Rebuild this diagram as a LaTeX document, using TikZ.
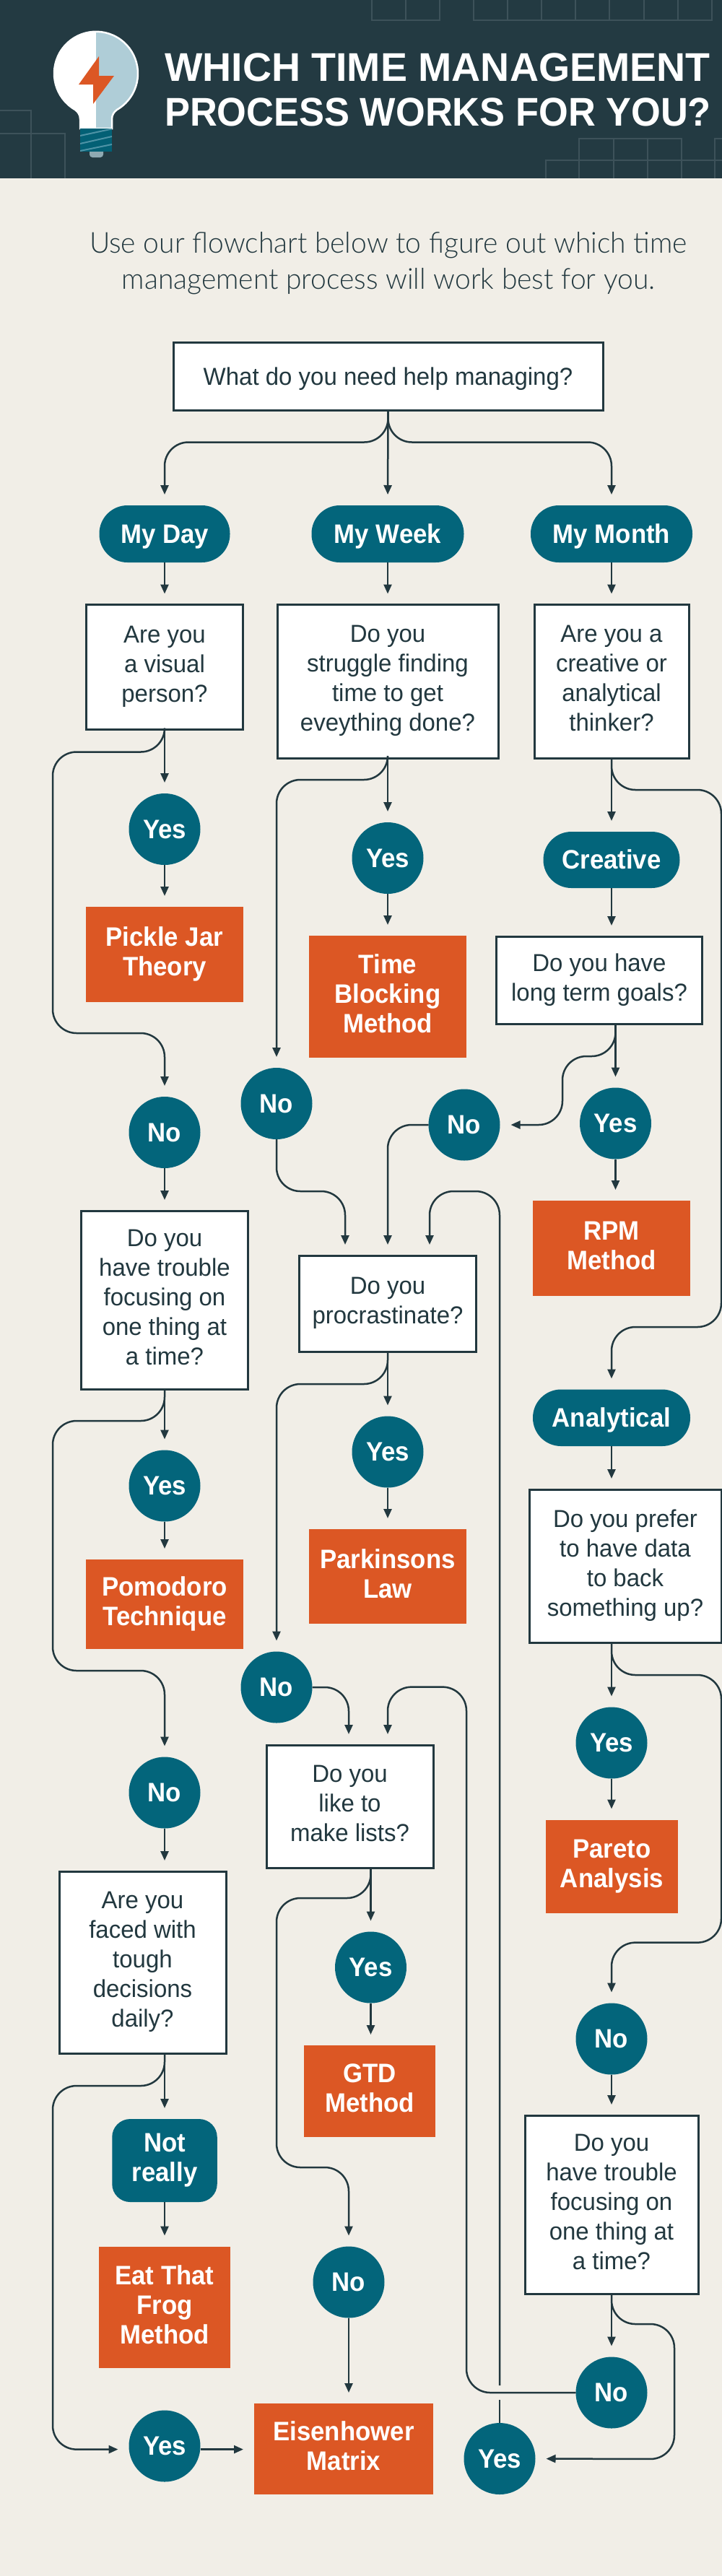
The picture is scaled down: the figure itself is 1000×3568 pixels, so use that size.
\documentclass[tikz,border=0pt]{standalone}
\usepackage{fontspec}
\setmainfont{Liberation Sans}
\newfontfamily\lightfont[FakeStretch=0.975]{Lato Light}
\newfontfamily\boldcond[FakeStretch=0.94]{Liberation Sans}
\newfontfamily\regcond[FakeStretch=0.97]{Liberation Sans}
\usetikzlibrary{arrows.meta,calc}
\definecolor{bgc}{HTML}{F1EEE7}
\definecolor{head}{HTML}{233A42}
\definecolor{gridc}{HTML}{3D525A}
\definecolor{ink}{HTML}{22383F}
\definecolor{tealc}{HTML}{03657B}
\definecolor{orangec}{HTML}{DC5724}
\definecolor{bulbblue}{HTML}{AFCDD7}
\definecolor{stripe}{HTML}{4E93A6}
\definecolor{capc}{HTML}{8FA9B2}
\tikzset{
  qbox/.style={draw=ink,line width=3pt,fill=white,text=ink,inner sep=0pt,outer sep=0pt,align=center,
    font=\regcond\fontsize{34}{41}\selectfont,
    execute at begin node={\rule{0pt}{26pt}\ignorespaces},execute at end node={\rule[-8pt]{0pt}{8pt}}},
  qone/.style={execute at begin node={\rule{0pt}{33pt}\ignorespaces}},
  res/.style={fill=orangec,text=white,inner sep=0pt,outer sep=0pt,align=center,
    font=\boldcond\bfseries\fontsize{37}{41}\selectfont,
    execute at begin node={\rule{0pt}{31pt}\ignorespaces},execute at end node={\rule[-8pt]{0pt}{8pt}}},
  pill/.style={fill=tealc,text=white,rounded corners=39pt,inner sep=0pt,outer sep=0pt,align=center,
    minimum height=79pt,font=\boldcond\bfseries\fontsize{37}{41}\selectfont,
    execute at begin node={\rule{0pt}{33pt}\ignorespaces},execute at end node={\rule[-8pt]{0pt}{8pt}}},
  ball/.style={circle,fill=tealc,text=white,inner sep=0pt,outer sep=0pt,minimum size=99pt,align=center,
    font=\boldcond\bfseries\fontsize{37}{41}\selectfont,
    execute at begin node={\rule{0pt}{33pt}\ignorespaces},execute at end node={\rule[-8pt]{0pt}{8pt}}},
  conn/.style={draw=ink,line width=2.5pt,rounded corners=33pt,-{Triangle[width=11pt,length=13pt]},shorten >=15pt},
  plainline/.style={draw=ink,line width=2.5pt,rounded corners=33pt},
  gridl/.style={draw=gridc,line width=2pt},
}
\begin{document}
\begin{tikzpicture}[x=1pt,y=-1pt]
\useasboundingbox (0,0) rectangle (1000,3568);
\fill[bgc] (0,0) rectangle (1000,3568);
\fill[head] (0,0) rectangle (1000,247);
% header grid
\draw[gridl] (515,0) -- (515,28) -- (609,28) -- (609,0) (562,0) -- (562,28);
\draw[gridl] (656,0) -- (656,28) -- (986,28) -- (986,0)
  (703,0) -- (703,28) (750,0) -- (750,28) (797,0) -- (797,28) (844,0) -- (844,28) (892,0) -- (892,28) (939,0) -- (939,28);
\draw[gridl] (0,153) -- (43,153) -- (43,247) (0,185) -- (90,185) -- (90,247);
\draw[gridl] (756,247) -- (756,222) -- (1000,222) (802,247) -- (802,192) -- (944,192) -- (944,247)
  (850,192) -- (850,247) (897,192) -- (897,247) (1000,192) -- (990,192) -- (990,247);
% bulb
\fill[capc] (124,208) rectangle (143,214) arc[start angle=0,end angle=90,radius=4] -- (128,218) arc[start angle=90,end angle=180,radius=4] -- cycle;
\def\bulbpath{(111,178) -- (111,165) .. controls (111,159) and (108,155) .. (104,152) arc[start angle=120,end angle=420,radius=58] .. controls (158,155) and (155,159) .. (155,165) -- (155,178) -- cycle}
\fill[white] \bulbpath;
\begin{scope}
\clip (133,0) rectangle (200,178);
\fill[bulbblue] \bulbpath;
\end{scope}
\draw[white,line width=2.5pt] \bulbpath;
\fill[tealc!95!black] (111,178) rectangle (155,210);
\begin{scope}
\clip (111,178) rectangle (155,210);
\draw[stripe,line width=2pt] (111,188) -- (155,178.5) (111,199) -- (155,189) (111,209) -- (155,200);
\end{scope}
\fill[orangec] (137,78) -- (109,117) -- (129,117) -- (129,144) -- (158,105) -- (137,105) -- cycle;
% titles
\node[anchor=west,inner sep=0pt,align=left,text=white,font=\bfseries\fontsize{55.5}{61.5}\selectfont,
  execute at begin node={\rule{0pt}{40pt}\ignorespaces}] (title) at (228,124.5)
  {WHICH TIME MANAGEMENT\\\addfontfeature{FakeStretch=0.944}PROCESS WORKS FOR YOU?};
\node[inner sep=0pt,align=center,text=ink,font=\lightfont\fontsize{40}{50}\selectfont,
  execute at begin node={\rule{0pt}{29pt}\ignorespaces},execute at end node={\rule[-9pt]{0pt}{9pt}}] (sub) at (538,365)
  {Use our flowchart below to figure out which time\\management process will work best for you.};
% nodes
\node[qbox,qone,minimum width=595pt,minimum height=94pt] (q0) at (537.5,521) {What do you need help managing?};
\node[pill,minimum width=181pt] (pday) at (228,739.5) {My Day};
\node[pill,minimum width=211pt] (pweek) at (537,739.5) {My Week};
\node[pill,minimum width=224pt] (pmonth) at (847,739.5) {My Month};
\node[qbox,minimum width=216.5pt,minimum height=172.5pt] (qday) at (228,923.75) {Are you\\a visual\\person?};
\node[qbox,minimum width=306pt,minimum height=212.5pt] (qweek) at (537,943.75) {Do you\\struggle finding\\time to get\\eveything done?};
\node[qbox,minimum width=214pt,minimum height=212.5pt] (qmonth) at (847,943.75) {Are you a\\creative or\\analytical\\thinker?};
\node[ball] (y1) at (228,1148.5) {Yes};
\node[ball] (y2) at (537,1188.5) {Yes};
\node[pill,minimum width=189pt,minimum height=78pt] (pcre) at (847,1191) {Creative};
\node[res,minimum width=218pt,minimum height=131.5pt] (rpick) at (228,1321.75) {Pickle Jar\\Theory};
\node[res,minimum width=217.5pt,minimum height=169pt] (rtime) at (537,1380.5) {Time\\Blocking\\Method};
\node[qbox,minimum width=285pt,minimum height=121pt] (qlong) at (830,1357.5) {Do you have\\long term goals?};
\node[ball] (n1) at (228,1568.5) {No};
\node[ball] (n2) at (383,1528.5) {No};
\node[ball] (n3) at (643,1558) {No};
\node[ball] (y3) at (852.5,1556) {Yes};
\node[res,minimum width=218pt,minimum height=132pt] (rrpm) at (847,1729) {RPM\\Method};
\node[qbox,minimum width=231pt,minimum height=247pt] (qfoc) at (228,1800.5) {Do you\\have trouble\\focusing on\\one thing at\\a time?};
\node[qbox,minimum width=245pt,minimum height=133pt] (qpro) at (537,1805.5) {Do you\\procrastinate?};
\node[pill,minimum width=218pt,minimum height=78.5pt] (pana) at (847,1963.75) {Analytical};
\node[ball] (y4) at (537,2011) {Yes};
\node[ball] (y5) at (228,2058) {Yes};
\node[qbox,minimum width=266pt,minimum height=212pt] (qpre) at (866,2169) {Do you prefer\\to have data\\to back\\something up?};
\node[res,minimum width=218pt,minimum height=131pt] (rpark) at (537,2183.5) {Parkinsons\\Law};
\node[res,minimum width=218pt,minimum height=124pt] (rpom) at (228,2222) {Pomodoro\\Technique};
\node[ball] (n4) at (383,2337) {No};
\node[ball] (y6) at (847,2414) {Yes};
\node[qbox,minimum width=231pt,minimum height=170pt] (qlis) at (484.5,2502) {Do you\\like to\\make lists?};
\node[ball] (n5) at (228,2483) {No};
\node[res,minimum width=183pt,minimum height=129.5pt] (rpar) at (847.5,2585.25) {Pareto\\Analysis};
\node[qbox,minimum width=231pt,minimum height=252pt] (qtou) at (197.5,2718) {Are you\\faced with\\tough\\decisions\\daily?};
\node[ball] (y7) at (513.5,2725) {Yes};
\node[ball] (n6) at (847,2824) {No};
\node[res,minimum width=182pt,minimum height=127pt] (rgtd) at (512,2896.5) {GTD\\Method};
\node[qbox,minimum width=240pt,minimum height=247pt] (qfo2) at (847,3053.5) {Do you\\have trouble\\focusing on\\one thing at\\a time?};
\node[pill,rounded corners=25pt,minimum width=145.5pt,minimum height=115pt] (pnot) at (228,2992.5) {Not\\really};
\node[res,minimum width=182.5pt,minimum height=168.5pt] (reat) at (228,3195.75) {Eat That\\Frog\\Method};
\node[ball] (n7) at (483,3161) {No};
\node[ball] (n8) at (847,3314) {No};
\node[res,minimum width=248pt,minimum height=126pt] (reis) at (476,3392) {Eisenhower\\Matrix};
\node[ball] (y8) at (228,3388) {Yes};
\node[ball] (y9) at (692,3405.5) {Yes};
% straight connectors
\draw[conn] (q0.south) -- (pweek.north);
\draw[conn] (q0.south) -- ++(0,44.5) -| (pday.north);
\draw[conn] (q0.south) -- ++(0,44.5) -| (pmonth.north);
\draw[conn] (pday.south) -- (qday.north);
\draw[conn] (pweek.south) -- (qweek.north);
\draw[conn] (pmonth.south) -- (qmonth.north);
\draw[conn] (qday.south) -- (y1.north);
\draw[conn] (y1.south) -- (rpick.north);
\draw[conn] (qweek.south) -- (y2.north);
\draw[conn] (y2.south) -- (rtime.north);
\draw[conn] (qmonth.south) -- (pcre.north);
\draw[conn] (pcre.south) -- (pcre.south |- qlong.north);
\draw[conn] (y3 |- qlong.south) -- (y3.north);
\draw[conn] (y3.south) -- (y3 |- rrpm.north);
\draw[conn] (n1.south) -- (qfoc.north);
\draw[conn] (qfoc.south) -- (y5.north);
\draw[conn] (y5.south) -- (rpom.north);
\draw[conn] (qpro.south) -- (y4.north);
\draw[conn] (y4.south) -- (rpark.north);
\draw[conn] (pana.south) -- (pana.south |- qpre.north);
\draw[conn] (y6 |- qpre.south) -- (y6.north);
\draw[conn] (y6.south) -- (y6 |- rpar.north);
\draw[conn] (n5.south) -- (n5.south |- qtou.north);
\draw[conn] (y7 |- qlis.south) -- (y7.north);
\draw[conn] (y7.south) -- (y7 |- rgtd.north);
\draw[conn] (n6.south) -- (qfo2.north);
\draw[conn] (pnot |- qtou.south) -- (pnot.north);
\draw[conn] (pnot.south) -- (reat.north);
\draw[conn] (qfo2.south) -- (n8.north);
\draw[conn] (n7.south) -- (n7.south |- reis.north);
\draw[conn] (y8.east |- 0,3392.6) -- (reis.west |- 0,3392.6);
% curved connectors
\draw[conn] (qday.south) -- ++(0,31.5) -- ++(-155,0) -- ++(0,389.5) -- ++(155,0) -- (n1.north);
\draw[conn] (qweek.south) -- ++(0,30) -| (n2.north);
\draw[conn] (pcre.north |- qmonth.south) -- ++(0,44) -- ++(152,0) -- ++(0,744) -- ++(-152,0) -- (pana.north);
\draw[conn] (y3 |- qlong.south) -- ++(0,45) -- ++(-73.5,0) -- ++(0,95) -- (n3.east);
\draw[conn] (n3.west) -| (qpro.north);
\draw[conn] (n2.south) -- ++(0,72) -- ++(95,0) -- ($(qpro.north)+(-59,0)$);
\draw[plainline] (y9.north) -- ++(0,-32);
\draw[conn] ($(y9.north)+(0,-52)$) -- ++(0,-1654) -| ($(qpro.north)+(58,0)$);
\draw[conn] (qpro.south) -- ++(0,45) -| (n4.north);
\draw[conn] (qfoc.south) -- ++(0,44) -- ++(-155,0) -- ++(0,346) -- ++(155,0) -- (n5.north);
\draw[conn] (n4.east) -| ($(qlis.north)+(-1.5,0)$);
\draw[conn] (n8.west) -- ++(-151.5,0) -- ++(0,-977.4) -| ($(qlis.north)+(52.5,0)$);
\draw[conn] (y6 |- qpre.south) -- ++(0,45) -- ++(152,0) -- ++(0,370.6) -- ++(-152,0) -- (n6.north);
\draw[conn] (y7 |- qlis.south) -- ++(0,42) -- ++(-130.5,0) -- ++(0,373) -- ++(100,0) -- (n7.north);
\draw[conn] (pnot |- qtou.south) -- ++(0,45) -- ++(-155,0) -- ++(0,503.6) -- (y8.west |- 0,3392.6);
\draw[conn] (qfo2.south) -- ++(0,42) -- ++(87,0) -- ++(0,187) -- (y9.east);
\end{tikzpicture}
\end{document}
